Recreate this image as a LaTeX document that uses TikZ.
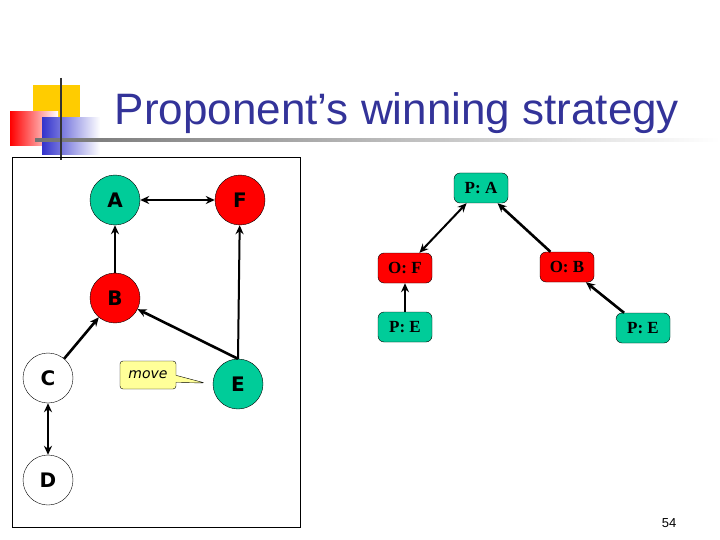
\documentclass[tikz,border=0pt]{standalone}
\usepackage{fontspec}
\setmainfont{Liberation Serif}
\newfontfamily\sansf{DejaVu Sans}
\newfontfamily\titf{Liberation Sans}
\usetikzlibrary{arrows.meta,shapes.callouts}
\definecolor{grn}{RGB}{0,204,153}
\definecolor{rd}{RGB}{255,0,0}
\definecolor{navy}{RGB}{51,51,153}
\definecolor{yel}{RGB}{255,204,0}
\definecolor{blu}{RGB}{51,51,204}
\definecolor{note}{RGB}{255,255,153}
\begin{document}
\begin{tikzpicture}[x=1pt,y=-1pt,
  circ/.style={circle,draw=black,thin,minimum size=50pt,inner sep=0pt,font=\sansf\bfseries\fontsize{20}{20}\selectfont},
  box/.style={rounded corners=6pt,draw=black,thin,minimum width=54pt,minimum height=30pt,inner sep=1pt,font=\bfseries\fontsize{17}{17}\selectfont},
  arr/.style={-{Stealth[length=9pt,width=8pt]},line width=2.6pt},
  darr/.style={{Stealth[length=9pt,width=8pt]}-{Stealth[length=9pt,width=8pt]},line width=2.2pt}]
\useasboundingbox (0,0) rectangle (720,540);
\fill[white] (0,0) rectangle (720,540);
% decoration
\fill[yel] (33,85) rectangle (80,120);
\shade[left color=rd,right color=white] (10,112) rectangle (58,146);
\shade[left color=blu,right color=white] (42,118) rectangle (100,155);
\shade[left color=gray!90!black,right color=white] (35,139) rectangle (720,142);
\draw[line width=2pt,black!80] (61,78) -- (61,160);
\node[font=\titf\fontsize{44}{44}\selectfont,text=navy] (title) at (397,113) {Proponent’s winning strategy};
\draw[thin] (12,157) rectangle (300,527);
% graph
\node[circ,fill=grn] (A) at (115,200) {A};
\node[circ,fill=rd] (F) at (240,200) {F};
\node[circ,fill=rd] (B) at (115,298) {B};
\node[circ,fill=white] (C) at (48,378) {C};
\node[circ,fill=white] (D) at (48,480) {D};
\node[circ,fill=grn] (E) at (238,384) {E};
\draw[darr,line width=1.6pt] (A) -- (F);
\draw[arr] (B) -- (A);
\draw[arr] (C) -- (B);
\draw[arr] (E.north) -- (B);
\draw[arr,line width=2pt] (E.north) -- (F);
\draw[darr] (C) -- (D);
\node[rectangle callout,draw=black,thin,fill=note,rounded corners=3pt,minimum width=56pt,minimum height=28pt,callout absolute pointer={(205,383)},font=\sansf\itshape\fontsize{14}{14}\selectfont] (mv) at (148,375) {move};
% tree
\node[box,fill=grn] (PA) at (481,188) {P: A};
\node[box,fill=rd] (OF) at (405,268) {O: F};
\node[box,fill=rd] (OB) at (567,267) {O: B};
\node[box,fill=grn] (PE1) at (405,327) {P: E};
\node[box,fill=grn] (PE2) at (643,328) {P: E};
\draw[darr,line width=2pt] (PA) -- (OF);
\draw[arr] (OB) -- (PA);
\draw[arr,line width=2pt] (PE1) -- (OF);
\draw[arr] (PE2) -- (OB);
\node[font=\titf\fontsize{13}{13}\selectfont] (pg) at (669,523) {54};
\end{tikzpicture}
\end{document}
